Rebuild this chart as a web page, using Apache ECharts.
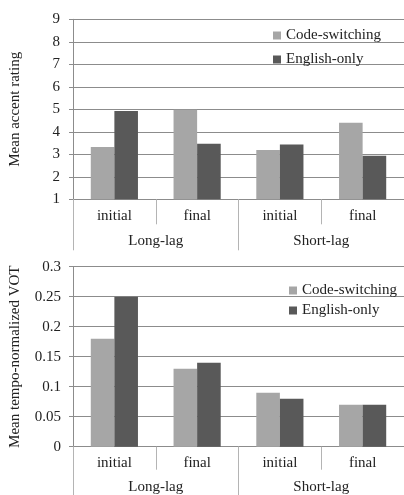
<!DOCTYPE html>
<html>
<head>
<meta charset="utf-8">
<script src="https://cdn.jsdelivr.net/npm/echarts@6/dist/echarts.min.js"></script>
<style>
html,body{margin:0;padding:0;background:#fff;}
#c{width:404px;height:495px;}
</style>
</head>
<body>
<div id="c"></div>
<script>
var categories = ['initial', 'final', 'initial', 'final'];
var groups = ['Long-lag', 'Short-lag'];
var seriesNames = ['Code-switching', 'English-only'];
var accentCS = [3.32, 4.98, 3.19, 4.4];
var accentEO = [4.92, 3.47, 3.44, 2.94];
var votCS = [0.18, 0.13, 0.09, 0.07];
var votEO = [0.25, 0.14, 0.08, 0.07];
var accentTicks = { min: 1, max: 9, interval: 1 };
var votTicks = { min: 0, max: 0.3, interval: 0.05 };

var FONT = '"Liberation Serif", "Times New Roman", serif';
var TXT = '#222';
var GRID = '#8c8c8c';
var SEP = '#b4b4b4';
var C1 = '#a6a6a6';
var C2 = '#595959';

function catAxis(gi, tickLen) {
  return {
    type: 'category', gridIndex: gi, data: categories, position: 'bottom',
    axisLine: { show: true, lineStyle: { color: GRID, width: 1 } },
    axisTick: { show: true, interval: 0, length: tickLen, lineStyle: { color: SEP } },
    axisLabel: { interval: 0, margin: 9, fontFamily: FONT, fontSize: 15, color: TXT },
    splitLine: { show: false }
  };
}
function groupAxis(gi, tickLen, margin) {
  return {
    type: 'category', gridIndex: gi, data: groups, position: 'bottom',
    axisLine: { show: false },
    axisTick: { show: true, interval: 0, length: tickLen, lineStyle: { color: SEP } },
    axisLabel: { interval: 0, margin: margin, fontFamily: FONT, fontSize: 15, color: TXT },
    splitLine: { show: false }
  };
}
function valAxis(gi, t, name, gap, margin) {
  return {
    type: 'value', gridIndex: gi, min: t.min, max: t.max, interval: t.interval,
    name: name, nameLocation: 'middle', nameGap: gap,
    nameTextStyle: { fontFamily: FONT, fontSize: 15, color: TXT },
    axisLine: { show: true, lineStyle: { color: GRID } },
    axisTick: { show: true, length: 4, lineStyle: { color: GRID } },
    axisLabel: { margin: margin, fontFamily: FONT, fontSize: 15, color: TXT },
    splitLine: { show: true, lineStyle: { color: GRID, width: 1 } }
  };
}
function bar(name, xi, yi, data, color) {
  return {
    name: name, type: 'bar', xAxisIndex: xi, yAxisIndex: yi, data: data,
    barGap: '0%', barCategoryGap: '43%',
    itemStyle: { color: color },
    emphasis: { disabled: true }, animation: false
  };
}

var chart = echarts.init(document.getElementById('c'), null, { renderer: 'canvas' });
chart.setOption({
  animation: false,
  backgroundColor: '#fff',
  grid: [
    { left: 70.5, top: 19.3, width: 338.7, height: 180, containLabel: false },
    { left: 70.5, top: 266.7, width: 334, height: 180, containLabel: false }
  ],
  legend: [
    { data: seriesNames, orient: 'vertical', left: 268, top: 23, itemWidth: 8, itemHeight: 8,
      itemGap: 9, icon: 'rect', textStyle: { fontFamily: FONT, fontSize: 15, color: TXT } },
    { data: seriesNames, orient: 'vertical', left: 284, top: 278, itemWidth: 8, itemHeight: 8,
      itemGap: 5, icon: 'rect', textStyle: { fontFamily: FONT, fontSize: 15, color: TXT } }
  ],
  xAxis: [
    catAxis(0, 25), groupAxis(0, 51, 34),
    catAxis(1, 23), groupAxis(1, 49, 33)
  ],
  yAxis: [
    valAxis(0, accentTicks, 'Mean accent rating', 50, 13),
    valAxis(1, votTicks, 'Mean tempo-normalized VOT', 50, 12)
  ],
  series: [
    bar(seriesNames[0], 0, 0, accentCS, C1),
    bar(seriesNames[1], 0, 0, accentEO, C2),
    bar(seriesNames[0], 2, 1, votCS, C1),
    bar(seriesNames[1], 2, 1, votEO, C2)
  ]
});
</script>
</body>
</html>
